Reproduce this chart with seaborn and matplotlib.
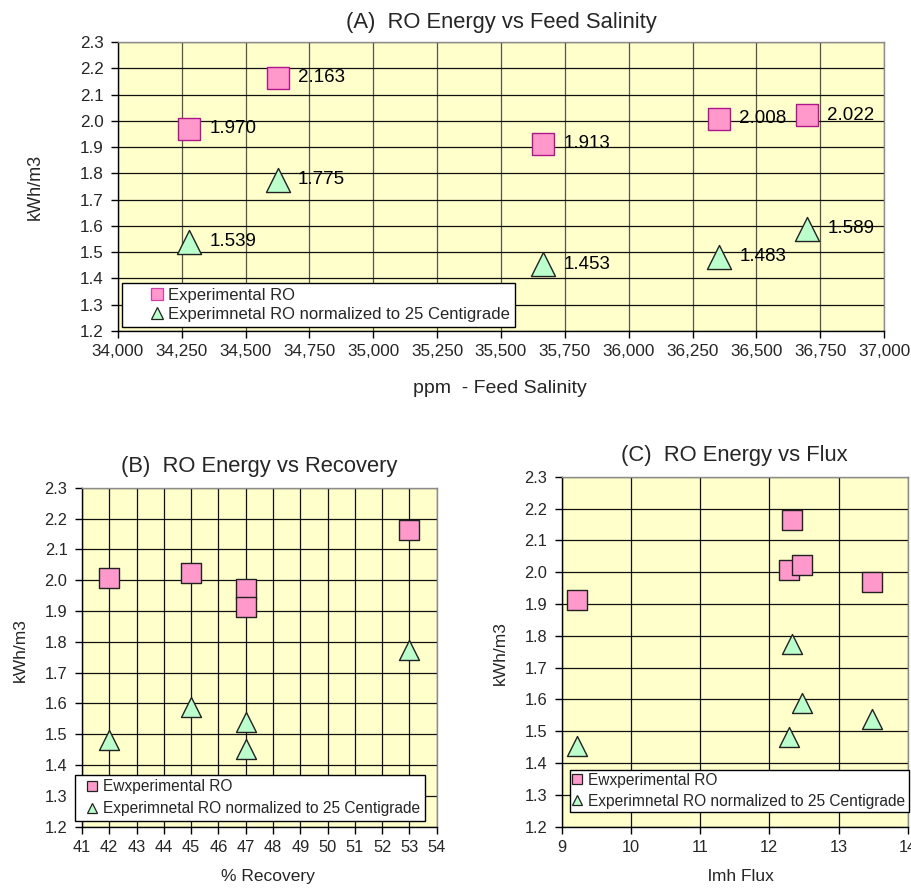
import numpy as np
import pandas as pd
import matplotlib
matplotlib.use("Agg")
import matplotlib.pyplot as plt
import seaborn as sns
from matplotlib.lines import Line2D
from matplotlib.legend_handler import HandlerLine2D
from matplotlib.ticker import MultipleLocator, FuncFormatter

# ---------------- data ----------------
energy_exp = [1.970, 2.163, 1.913, 2.008, 2.022]      # kWh/m3, experimental RO
energy_norm = [1.539, 1.775, 1.453, 1.483, 1.589]     # kWh/m3, normalized to 25 C
feed_salinity = [34280, 34625, 35665, 36355, 36700]   # ppm
recovery = [47, 53, 47, 42, 45]                       # %
flux = [13.48, 12.33, 9.22, 12.28, 12.47]             # lmh

title_a = "(A)  RO Energy vs Feed Salinity"
title_b = "(B)  RO Energy vs Recovery"
title_c = "(C)  RO Energy vs Flux"
xlabel_a = "ppm  - Feed Salinity"
xlabel_b = "% Recovery"
xlabel_c = "lmh Flux"
ylabel = "kWh/m3"
legend_a = ["Experimental RO", "Experimnetal RO normalized to 25 Centigrade"]
legend_bc = ["Ewxperimental RO", "Experimnetal RO normalized to 25 Centigrade"]

df = pd.DataFrame({
    "salinity": feed_salinity + feed_salinity,
    "recovery": recovery + recovery,
    "flux": flux + flux,
    "energy": energy_exp + energy_norm,
    "series": ["exp"] * len(energy_exp) + ["norm"] * len(energy_norm),
})

# ---------------- style ----------------
sns.set_style("white")
plt.rcParams["font.family"] = ["Liberation Sans", "DejaVu Sans"]

BG = "#FFFFCC"
PINK = "#FF99CC"
GREEN = "#BBFFCC"
MAGENTA = "#B0168C"


class FracMarker(HandlerLine2D):
    """Legend handler placing the single marker at a fraction of the handle box."""
    def __init__(self, xfrac=0.5, **kw):
        super().__init__(**kw)
        self.xfrac = xfrac

    def get_xdata(self, legend, xdescent, ydescent, width, height, fontsize):
        xm = -xdescent + self.xfrac * width
        return np.array([xm - 0.5, xm + 0.5]), np.array([xm])


fig = plt.figure(figsize=(9.11, 8.88), dpi=100)
fig.patch.set_facecolor("white")

axA = fig.add_axes([0.1295, 0.6273, 0.8409, 0.3254])
axB = fig.add_axes([0.0900, 0.0690, 0.3894, 0.3818])
axC = fig.add_axes([0.6166, 0.0690, 0.3798, 0.3942])


def base_style(ax, xlim, xstep, xfmt, vgrid_color, tick_size):
    ax.set_facecolor(BG)
    ax.set_xlim(*xlim)
    ax.set_ylim(1.2, 2.3)
    ax.xaxis.set_major_locator(MultipleLocator(xstep))
    ax.yaxis.set_major_locator(MultipleLocator(0.1))
    ax.xaxis.set_major_formatter(FuncFormatter(xfmt))
    ax.yaxis.set_major_formatter(FuncFormatter(lambda v, p: f"{v:.1f}"))
    ax.set_axisbelow(True)
    ax.grid(axis="y", color="#111111", linewidth=0.9)
    ax.grid(axis="x", color=vgrid_color, linewidth=0.9)
    for s in ["left", "bottom"]:
        ax.spines[s].set_color("black")
        ax.spines[s].set_linewidth(1.0)
    for s in ["top", "right"]:
        ax.spines[s].set_color("#8c8c8c")
        ax.spines[s].set_linewidth(1.0)
    ax.tick_params(axis="both", direction="out", length=5, width=1,
                   color="black", labelsize=tick_size,
                   bottom=True, left=True, top=False, right=False)
    ax.tick_params(axis="x", pad=4.5)
    ax.tick_params(axis="y", pad=5.5)


def scatter_pair(ax, xcol, s_sq, s_tri, sq_edge):
    sub = df[df.series == "exp"]
    sns.scatterplot(data=sub, x=xcol, y="energy", ax=ax, marker="s", s=s_sq,
                    color=PINK, edgecolor=sq_edge, linewidth=1.0, legend=False,
                    zorder=3)
    sub = df[df.series == "norm"]
    sns.scatterplot(data=sub, x=xcol, y="energy", ax=ax, marker="^", s=s_tri,
                    color=GREEN, edgecolor="#222222", linewidth=1.0, legend=False,
                    zorder=3)


def add_legend(ax, labels, sq_edge, ms, fontsize, anchor, hl, htp, bp, ls, xfrac):
    handles = [
        Line2D([], [], ls="none", marker="s", ms=ms, mfc=PINK, mec=sq_edge, mew=0.9),
        Line2D([], [], ls="none", marker="^", ms=ms, mfc=GREEN, mec="#222222", mew=0.9),
    ]
    leg = ax.legend(handles, labels, loc="lower left", bbox_to_anchor=anchor,
                    borderaxespad=0, frameon=True, fancybox=False,
                    edgecolor="black", facecolor="white", framealpha=1,
                    fontsize=fontsize, handlelength=hl, handletextpad=htp,
                    borderpad=bp, labelspacing=ls,
                    handler_map={Line2D: FracMarker(xfrac)})
    leg.get_frame().set_linewidth(1.0)
    leg.set_zorder(6)
    return leg


# ---------------- Panel A ----------------
base_style(axA, (34000, 37000), 250, lambda v, p: f"{v:,.0f}", "#55554a", 12.3)
scatter_pair(axA, "salinity", 272, 300, MAGENTA)
for xv, yv in zip(feed_salinity + feed_salinity, energy_exp + energy_norm):
    axA.annotate(f"{yv:.3f}", (xv, yv), xytext=(14.4, 0), textcoords="offset points",
                 ha="left", va="center", fontsize=13.5, color="black", zorder=4)
axA.set_title(title_a, fontsize=15.8, pad=10)
axA.set_xlabel(xlabel_a, fontsize=14)
axA.set_ylabel(ylabel, fontsize=13)
axA.xaxis.set_label_coords(0.4987, -0.2007)
axA.xaxis.label.set_verticalalignment("center")
axA.yaxis.set_label_coords(-0.108, 0.5)
axA.yaxis.label.set_verticalalignment("center")
add_legend(axA, legend_a, "#D040A8", 9, 12, (0.005, 0.014),
           hl=2.06, htp=0.4, bp=0.3, ls=0.25, xfrac=0.875)

# ---------------- Panel B ----------------
base_style(axB, (41, 54), 1, lambda v, p: f"{v:.0f}", "#111111", 11.8)
scatter_pair(axB, "recovery", 207, 207, "#222222")
axB.set_title(title_b, fontsize=15.8, pad=11)
axB.set_xlabel(xlabel_b, fontsize=12.5)
axB.set_ylabel(ylabel, fontsize=12.5)
axB.xaxis.set_label_coords(0.524, -0.1475)
axB.xaxis.label.set_verticalalignment("center")
axB.yaxis.set_label_coords(-0.173, 0.521)
axB.yaxis.label.set_verticalalignment("center")
add_legend(axB, legend_bc, "#222222", 7.2, 11.2, (-0.0197, 0.0168),
           hl=1.23, htp=0.3, bp=0.3, ls=0.45, xfrac=0.66)

# ---------------- Panel C ----------------
base_style(axC, (9, 14), 1, lambda v, p: f"{v:.0f}", "#111111", 11.8)
scatter_pair(axC, "flux", 207, 207, "#222222")
axC.set_title(title_c, fontsize=15.8, pad=11.5)
axC.set_xlabel(xlabel_c, fontsize=12.5)
axC.set_ylabel(ylabel, fontsize=12.5)
axC.xaxis.set_label_coords(0.517, -0.143)
axC.xaxis.label.set_verticalalignment("center")
axC.yaxis.set_label_coords(-0.178, 0.495)
axC.yaxis.label.set_verticalalignment("center")
add_legend(axC, legend_bc, "#222222", 7.2, 11.2, (0.024, 0.042),
           hl=0.78, htp=0.2, bp=0.2, ls=0.4, xfrac=0.33)

fig.savefig("out.png", dpi=100, facecolor="white")
